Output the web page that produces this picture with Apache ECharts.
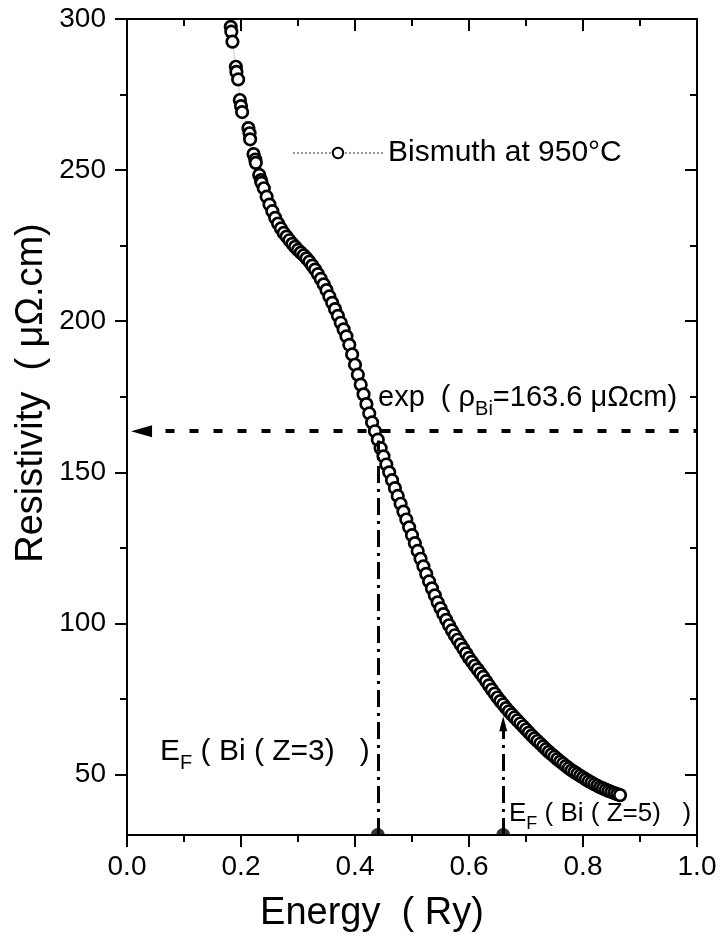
<!DOCTYPE html>
<html>
<head>
<meta charset="utf-8">
<script src="https://cdn.jsdelivr.net/npm/echarts@6/dist/echarts.min.js"></script>
<style>
  html, body { margin: 0; padding: 0; background: #fff; }
  #chart { width: 720px; height: 944px; }
</style>
</head>
<body>
<div id="chart"></div>
<script>
// Resistivity of liquid bismuth at 950 °C as a function of energy (Ry)
const energy = [
  0.182, 0.183, 0.185, 0.191, 0.192, 0.195, 0.198, 0.200, 0.202, 0.213,
  0.215, 0.216, 0.222, 0.225, 0.226, 0.232, 0.235, 0.236,
  0.240, 0.245, 0.250, 0.255, 0.260, 0.265, 0.270, 0.275, 0.280, 0.285,
  0.290, 0.295, 0.300, 0.305, 0.310, 0.315, 0.320, 0.325, 0.330, 0.335,
  0.340, 0.345, 0.350, 0.355, 0.360, 0.365, 0.370, 0.375, 0.380, 0.385,
  0.390, 0.395, 0.400, 0.405, 0.410, 0.415, 0.420, 0.425, 0.430, 0.435,
  0.440, 0.445, 0.450, 0.455, 0.460, 0.465, 0.470, 0.475, 0.480, 0.485,
  0.490, 0.495, 0.500, 0.505, 0.510, 0.515, 0.520, 0.525, 0.530, 0.535,
  0.540, 0.545, 0.550, 0.555, 0.560, 0.565, 0.570, 0.575, 0.580, 0.585,
  0.590, 0.595, 0.600, 0.605, 0.610, 0.615, 0.620, 0.625, 0.630, 0.635,
  0.640, 0.645, 0.650, 0.655, 0.660, 0.665, 0.670, 0.675, 0.680, 0.685,
  0.690, 0.695, 0.700, 0.705, 0.710, 0.715, 0.720, 0.725, 0.730, 0.735,
  0.740, 0.745, 0.750, 0.755, 0.760, 0.765, 0.770, 0.775, 0.780, 0.785,
  0.790, 0.795, 0.800, 0.805, 0.810, 0.815, 0.820, 0.825, 0.830, 0.835,
  0.840, 0.845, 0.850, 0.855, 0.860, 0.865
];
const resistivity = [
  297.4, 295.8, 292.5, 284.2, 282.5, 280.0, 273.2, 271.2, 269.2, 263.9,
  262.2, 260.2, 255.3, 253.5, 252.4, 248.4, 246.7, 245.8,
  244.0, 241.2, 238.6, 236.4, 234.2, 232.3, 230.7, 229.2, 228.0, 226.8,
  225.6, 224.6, 223.6, 222.7, 221.8, 220.8, 219.7, 218.4, 217.1, 215.6,
  214.0, 212.2, 210.3, 208.2, 206.1, 204.0, 201.8, 199.5, 197.3, 195.0,
  192.2, 189.0, 185.6, 182.3, 179.0, 175.8, 172.6, 169.5, 166.5, 163.6,
  160.8, 158.0, 155.3, 152.6, 150.0, 147.4, 144.8, 142.2, 139.6, 137.0,
  134.4, 131.8, 129.2, 126.6, 124.0, 121.4, 118.9, 116.4, 113.9, 111.6,
  109.3, 107.0, 105.0, 103.1, 101.2, 99.4, 97.7, 96.1, 94.6, 93.1,
  91.6, 90.1, 88.6, 87.3, 86.0, 84.8, 83.5, 82.3, 80.9, 79.5,
  78.1, 76.8, 75.5, 74.3, 73.2, 72.0, 70.9, 69.9, 68.9, 67.9,
  66.9, 65.9, 64.9, 63.9, 62.9, 62.0, 61.1, 60.2, 59.3, 58.4,
  57.5, 56.7, 55.9, 55.1, 54.3, 53.6, 52.8, 52.1, 51.4, 50.8,
  50.2, 49.6, 49.0, 48.4, 47.8, 47.3, 46.8, 46.3, 45.8, 45.4,
  45.0, 44.6, 44.2, 43.9, 43.5, 43.2
];

// axis ranges and tick values
const xRange = [0, 1];
const xStep = 0.2;
const yRange = [30, 300];
const yMajorTicks = [50, 100, 150, 200, 250, 300];
const yMinorTicks = [75, 125, 175, 225, 275];

// experimental resistivity and Fermi energies for Z = 3 and Z = 5
const expResistivity = 163.6;
const expArrowStart = 0.0255;
const fermiZ3 = 0.44;
const fermiZ3Top = 160.5;
const fermiZ5 = 0.66;
const fermiZ5Top = 66.8;

const FONT = '"Liberation Sans", Arial, sans-serif';
const BLACK = '#000';

const chart = echarts.init(document.getElementById('chart'), null, { renderer: 'canvas' });

const axisLine = { show: true, lineStyle: { color: BLACK, width: 2 } };
const tickStyle = { color: BLACK, width: 2 };

function xAxisDef(position, inside, labels) {
  return {
    type: 'value', position, min: xRange[0], max: xRange[1], interval: xStep,
    axisLine,
    axisTick: { show: true, inside, length: 12, lineStyle: tickStyle },
    minorTick: { show: true, splitNumber: 2, length: 7, lineStyle: tickStyle },
    axisLabel: labels ? {
      show: true, color: BLACK, fontSize: 28, fontFamily: FONT, margin: 18,
      formatter: v => v.toFixed(1)
    } : { show: false },
    splitLine: { show: false }
  };
}

function yAxisDef(position, inside, ticks, len, labels, line) {
  return {
    type: 'value', position, min: yRange[0], max: yRange[1], offset: 0,
    axisLine: line ? axisLine : { show: false },
    axisTick: { show: true, inside, length: len, customValues: ticks, lineStyle: tickStyle },
    axisLabel: labels ? {
      show: true, color: BLACK, fontSize: 28, fontFamily: FONT, margin: 21,
      customValues: ticks
    } : { show: false },
    splitLine: { show: false }
  };
}

const halfDisc = 'path://M0,10 A10,10 0 0 1 20,10 Z';

function subLabel(size, lh, subSize) {
  return {
    n: { fontSize: size, fontFamily: FONT, lineHeight: lh, fill: BLACK },
    s: { fontSize: subSize, fontFamily: FONT, lineHeight: subSize, verticalAlign: 'bottom', fill: BLACK }
  };
}

const option = {
  backgroundColor: '#fff',
  animation: false,
  grid: { left: 127, right: 23, top: 19, bottom: 109 },
  legend: {
    left: 287, top: 133,
    itemWidth: 90, itemHeight: 13, itemGap: 10,
    textStyle: { fontSize: 30, color: BLACK, fontFamily: FONT },
    data: ['Bismuth at 950°C']
  },
  xAxis: [
    xAxisDef('bottom', false, true),
    xAxisDef('top', true, false)
  ],
  yAxis: [
    yAxisDef('left', false, yMajorTicks, 12, true, true),
    yAxisDef('left', false, yMinorTicks, 7, false, false),
    yAxisDef('right', true, yMajorTicks, 12, false, true),
    yAxisDef('right', true, yMinorTicks, 7, false, false)
  ],
  series: [
    {
      name: 'Bismuth at 950°C',
      type: 'line',
      data: energy.map((e, i) => [e, resistivity[i]]),
      symbol: 'circle',
      symbolSize: 11.5,
      showAllSymbol: true,
      itemStyle: { color: '#fff', borderColor: BLACK, borderWidth: 2.7 },
      lineStyle: { color: '#999', width: 1, type: 'dotted' },
      z: 3
    },
    {
      // experimental resistivity: dashed guide with arrow to the y axis
      type: 'line',
      data: [],
      silent: true,
      markLine: {
        silent: true,
        animation: false,
        symbol: ['triangle', 'none'],
        symbolSize: [12, 21],
        label: { show: false },
        lineStyle: { color: BLACK, width: 4, type: [9, 15] },
        data: [[{ coord: [expArrowStart, expResistivity] }, { coord: [xRange[1], expResistivity] }]]
      },
      z: 4
    },
    {
      // Fermi energy markers
      type: 'line',
      data: [],
      silent: true,
      markLine: {
        silent: true,
        animation: false,
        label: { show: false },
        lineStyle: { color: BLACK, width: 3, type: [17, 6, 3, 6] },
        data: [
          [{ coord: [fermiZ3, yRange[0]], symbol: 'none' }, { coord: [fermiZ3, fermiZ3Top], symbol: 'none' }],
          [{ coord: [fermiZ5, yRange[0]], symbol: 'none' }, { coord: [fermiZ5, fermiZ5Top], symbol: 'triangle', symbolSize: [8, 15] }]
        ]
      },
      z: 4
    },
    {
      type: 'scatter',
      data: [[fermiZ3, yRange[0]], [fermiZ5, yRange[0]]],
      symbol: halfDisc,
      symbolSize: [14, 7],
      symbolOffset: [0, -3.5],
      itemStyle: { color: BLACK },
      silent: true,
      clip: false,
      z: 5
    }
  ],
  graphic: [
    {
      type: 'text', x: 32, y: 393, rotation: Math.PI / 2,
      style: { text: 'Resistivity  ( μΩ.cm)', fill: BLACK, font: '38px ' + FONT, align: 'center', verticalAlign: 'middle' }
    },
    {
      type: 'text', x: 372, y: 914,
      style: { text: 'Energy  ( Ry)', fill: BLACK, font: '38px ' + FONT, align: 'center', verticalAlign: 'middle' }
    },
    {
      type: 'text', x: 378, y: 377,
      style: {
        text: '{n|exp  ( ρ}{s|Bi}{n|=163.6 μΩcm)}',
        rich: subLabel(29, 42, 20)
      }
    },
    {
      type: 'text', x: 160, y: 731,
      style: {
        text: '{n|E}{s|F}{n| ( Bi ( Z=3)   )}',
        rich: subLabel(30, 42, 20)
      }
    },
    {
      type: 'text', x: 509, y: 795,
      style: {
        text: '{n|E}{s|F}{n| ( Bi ( Z=5)   )}',
        rich: subLabel(26, 38, 18)
      }
    }
  ]
};

chart.setOption(option);
</script>
</body>
</html>
